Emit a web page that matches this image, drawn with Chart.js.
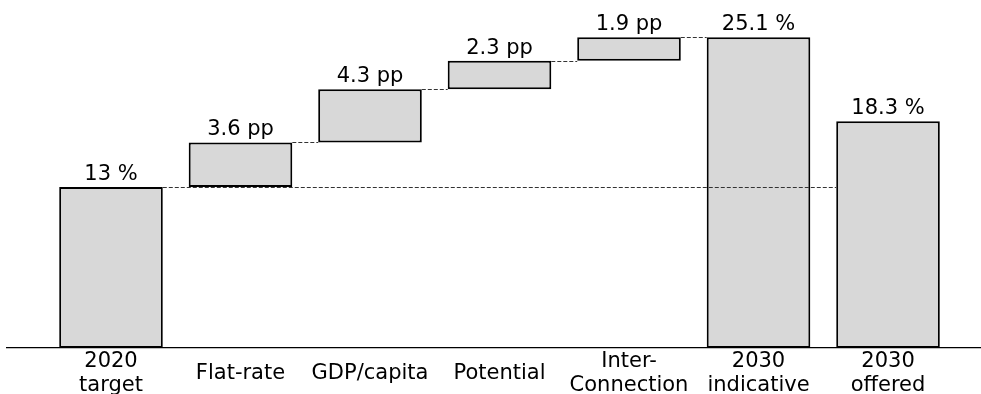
<!DOCTYPE html>
<html>
<head>
<meta charset="utf-8">
<script src="https://cdn.jsdelivr.net/npm/chart.js@4"></script>
<style>
  html, body { margin: 0; padding: 0; background: #fff; }
  #wrap { width: 981px; height: 394px; position: relative; }
</style>
</head>
<body>
<div id="wrap"><canvas id="myChart"></canvas></div>
<script>
const categories = [['2020', 'target'], 'Flat-rate', 'GDP/capita', 'Potential', ['Inter-', 'Connection'], ['2030', 'indicative'], ['2030', 'offered']];
const barBottoms = [0, 13, 16.6, 20.9, 23.2, 0, 0];
const barTops = [13, 16.6, 20.9, 23.2, 25.1, 25.1, 18.3];
const valueLabels = ['13 %', '3.6 pp', '4.3 pp', '2.3 pp', '1.9 pp', '25.1 %', '18.3 %'];
// dashed connectors: [from bar, to bar], drawn at the top of the "from" bar
const connectors = [[0, 6], [1, 2], [2, 3], [3, 4], [4, 5]];

const FONT = 'DejaVu Sans';

const data = categories.map((c, i) => ({ x: i, y: [barBottoms[i], barTops[i]] }));

const waterfallExtras = {
  id: 'waterfallExtras',
  afterDatasetsDraw(chart) {
    const { ctx } = chart;
    const bars = chart.getDatasetMeta(0).data;
    const yScale = chart.scales.y;

    ctx.save();
    ctx.strokeStyle = '#333';
    ctx.lineWidth = 1;
    ctx.setLineDash([4, 2]);
    connectors.forEach(([a, b]) => {
      const y = Math.round(yScale.getPixelForValue(barTops[a])) + 0.5;
      const x1 = bars[a].x + bars[a].width / 2;
      const x2 = bars[b].x - bars[b].width / 2;
      ctx.beginPath();
      ctx.moveTo(x1, y);
      ctx.lineTo(x2, y);
      ctx.stroke();
    });
    ctx.restore();

    ctx.save();
    ctx.fillStyle = '#000';
    ctx.font = '21px "' + FONT + '"';
    ctx.textAlign = 'center';
    ctx.textBaseline = 'alphabetic';
    bars.forEach((bar, i) => {
      ctx.fillText(valueLabels[i], bar.x, bar.y - 7);
    });
    ctx.restore();
  }
};

new Chart(document.getElementById('myChart'), {
  type: 'bar',
  data: {
    datasets: [{
      data,
      backgroundColor: '#d8d8d8',
      borderColor: '#000',
      borderWidth: 2,
      borderSkipped: false,
      categoryPercentage: 0.8,
      barPercentage: 1,
    }],
  },
  options: {
    responsive: true,
    maintainAspectRatio: false,
    animation: false,
    layout: { padding: { left: 7, right: 0, top: 0, bottom: 0 } },
    plugins: {
      legend: { display: false },
      tooltip: { enabled: false },
    },
    scales: {
      x: {
        type: 'linear',
        offset: false,
        min: -0.803,
        max: 6.718,
        grid: { display: false, offset: false },
        border: { display: true, color: '#000', width: 1.3 },
        afterBuildTicks: (axis) => {
          axis.ticks = categories.map((c, i) => ({ value: i }));
        },
        afterFit: (axis) => {
          axis.height = 46;
        },
        ticks: {
          autoSkip: false,
          maxRotation: 0,
          padding: 6,
          crossAlign: 'center',
          color: '#000',
          font: { family: FONT, size: 21, lineHeight: 1.1 },
          callback: (value) => categories[value],
        },
      },
      y: {
        display: false,
        min: 0,
        max: 28.1,
      },
    },
  },
  plugins: [waterfallExtras],
});
</script>
</body>
</html>
